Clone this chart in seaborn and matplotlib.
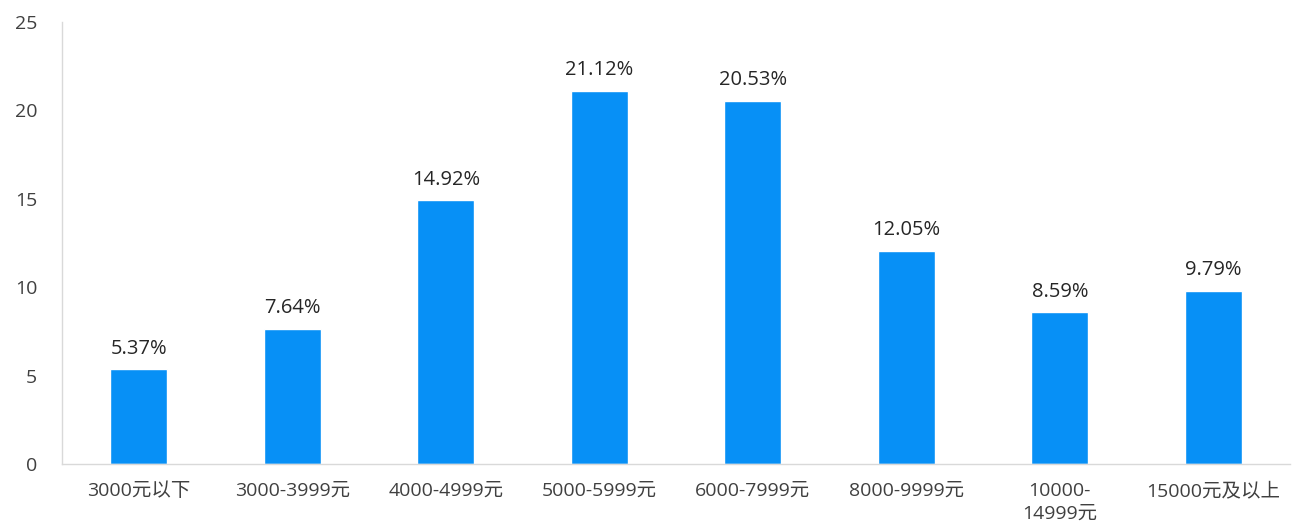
import pandas as pd
import seaborn as sns
import matplotlib.pyplot as plt

sns.set_style("white")
plt.rcParams['font.family'] = ['Open Sans', 'Noto Sans CJK SC', 'DejaVu Sans']
plt.rcParams['axes.unicode_minus'] = False

# 数据
categories = ["3000元以下", "3000-3999元", "4000-4999元", "5000-5999元",
              "6000-7999元", "8000-9999元", "10000-\n14999元", "15000元及以上"]
values = [5.37, 7.64, 14.92, 21.12, 20.53, 12.05, 8.59, 9.79]
y_ticks = [0, 5, 10, 15, 20, 25]

df = pd.DataFrame({"区间": categories, "占比": values})

fig = plt.figure(figsize=(12.93, 5.31), dpi=100)
ax = fig.add_axes([0.048, 0.126, 0.9497, 0.8326])

sns.barplot(data=df, x="区间", y="占比", color="#0790F6", width=0.37,
            saturation=1, ax=ax)

for p, v in zip(ax.patches, values):
    ax.text(p.get_x() + p.get_width() / 2, v + 0.6, f"{v:.2f}%",
            ha="center", va="bottom", fontsize=14.5, color="#262626")

ax.set_ylim(0, 25)
ax.set_xlim(-0.5, 7.5)
ax.set_yticks(y_ticks)
ax.set_xlabel("")
ax.set_ylabel("")
ax.tick_params(axis="both", length=0, labelsize=14, colors="#404040")
ax.tick_params(axis="y", pad=18)
ax.tick_params(axis="x", pad=13)
for lbl in ax.get_xticklabels():
    lbl.set_linespacing(1.35)

for s in ["top", "right"]:
    ax.spines[s].set_visible(False)
for s in ["left", "bottom"]:
    ax.spines[s].set_color("#d9d9d9")
    ax.spines[s].set_linewidth(1)

fig.savefig("out.png", dpi=100)
